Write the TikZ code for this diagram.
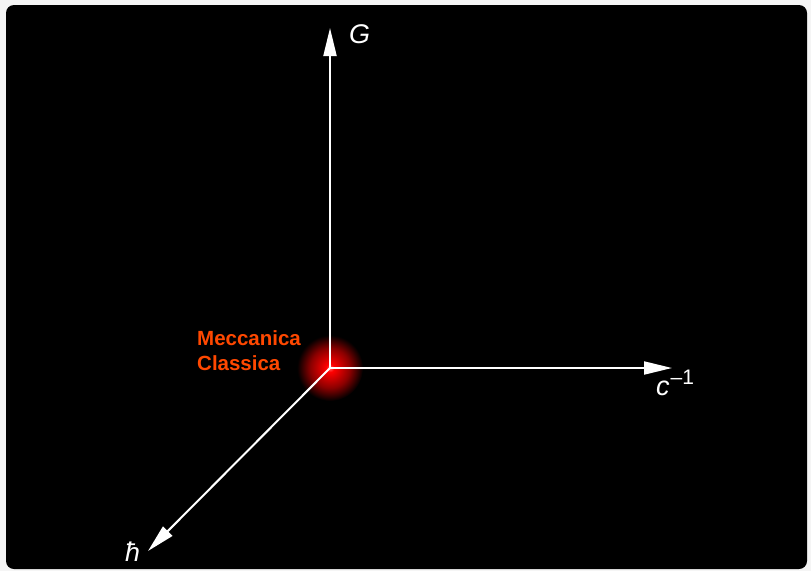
\documentclass[tikz,border=0pt]{standalone}
\usepackage{fontspec}
\setmainfont{Liberation Sans}
\usetikzlibrary{arrows.meta}
\definecolor{labelred}{RGB}{255,72,0}
\definecolor{pagegray}{RGB}{245,245,245}
\pgfdeclareradialshading{glow}{\pgfpoint{0bp}{0bp}}{color(0bp)=(red!60!white); color(3bp)=(red); color(15bp)=(red!55!black); color(25bp)=(black); color(50bp)=(black)}

\begin{document}
\begin{tikzpicture}[x=1pt,y=-1pt,
    axis/.style={white, line width=2pt, -{Triangle[length=28pt,width=13pt]}},
    axislabel/.style={text=white, font=\fontsize{27}{27}\selectfont\itshape, inner sep=0pt, anchor=base west}]
  \useasboundingbox (0,0) rectangle (811,571);
  \fill[pagegray] (0,0) rectangle (811,571);
  \fill[black, rounded corners=8pt] (6,5) rectangle (807,569);
  % origin and axis ends
  \coordinate (O) at (330,368);
  \coordinate (Gend) at (330,28);
  \coordinate (cend) at (672,368);
  \coordinate (hend) at (148,551);
  \shade[shading=glow] (O) circle (33pt);
  \draw[axis] (O) -- (Gend);
  \draw[axis] (O) -- (cend);
  \draw[axis] (O) -- (hend);
  \node[axislabel] (G) at (349,43) {G};
  \node[axislabel] (cinv) at (656,395) {c\kern1pt\raisebox{11pt}{\upshape\fontsize{21}{21}\selectfont –1}};
  \node[axislabel] (hbar) at (125,561) {ħ};
  \node[text=labelred, font=\bfseries\fontsize{20.5}{25}\selectfont, align=left, anchor=north west, inner sep=0pt] (mc) at (197,330) {Meccanica\\Classica};
\end{tikzpicture}
\end{document}
